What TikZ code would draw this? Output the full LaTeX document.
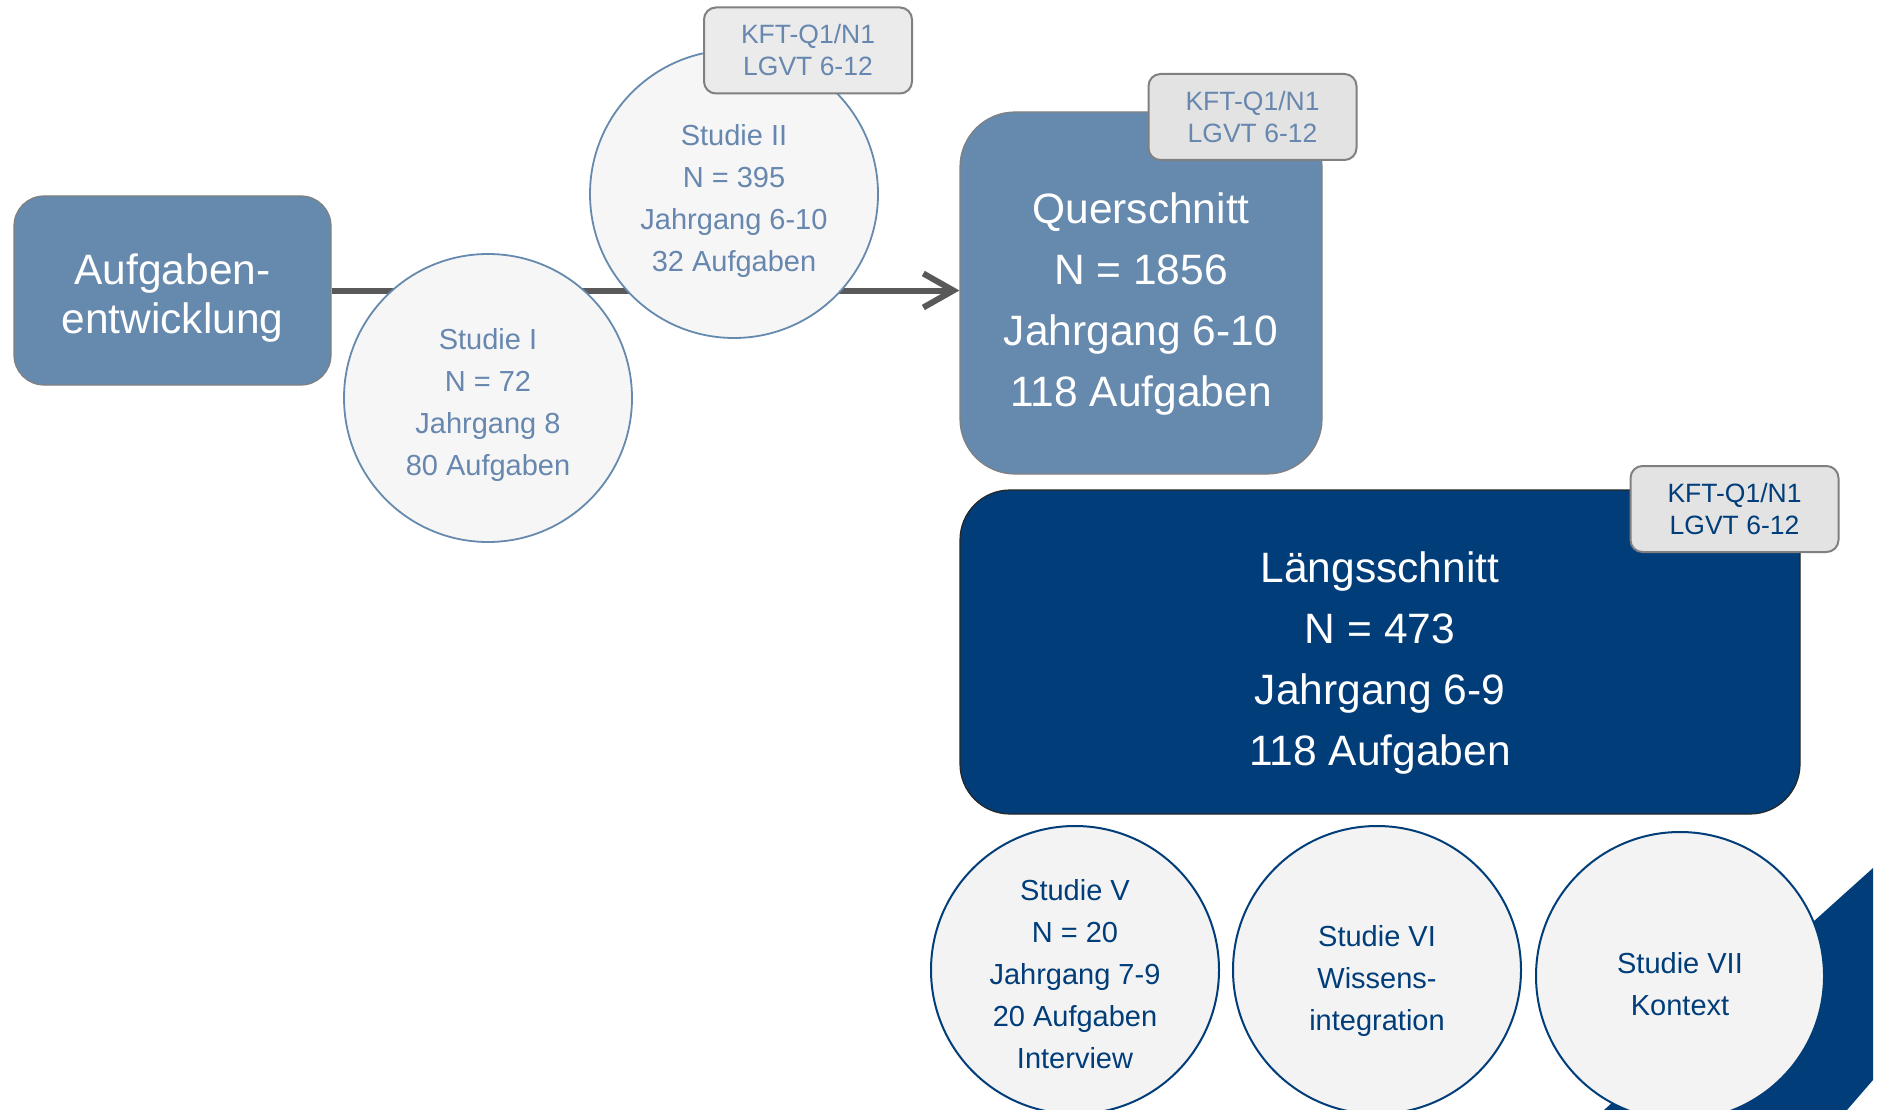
\documentclass[tikz,border=0pt]{standalone}
\usepackage{fontspec}
\setmainfont{Liberation Sans}
\usetikzlibrary{arrows.meta}
\definecolor{steel}{HTML}{6689AE}
\definecolor{steeltext}{HTML}{6787AF}
\definecolor{navy}{HTML}{003D79}
\definecolor{arrowgray}{HTML}{595959}
\definecolor{circfill}{HTML}{F6F6F6}
\definecolor{circfilltwo}{HTML}{F3F3F3}
\definecolor{badgefill}{HTML}{E3E3E3}
\definecolor{badgeline}{HTML}{808080}
\tikzset{
  bigbox/.style={draw=badgeline, line width=1.2pt, inner sep=0pt},
  bigtext/.style={align=center, text=white, inner sep=0pt, font=\fontsize{42.5}{61}\selectfont},
  badge/.style={draw=badgeline, fill=badgefill, line width=2pt, rounded corners=12pt,
    minimum width=208pt, minimum height=86pt, inner sep=0pt, align=center,
    font=\fontsize{26.5}{32}\selectfont},
  studyup/.style={circle, draw=steel, fill=circfill, line width=1.8pt, minimum size=288pt, inner sep=0pt},
  studydown/.style={circle, draw=navy, fill=circfilltwo, line width=2pt, minimum size=288pt, inner sep=0pt},
  uptext/.style={align=center, inner sep=0pt, text=steeltext, font=\fontsize{29}{42}\selectfont},
  downtext/.style={align=center, inner sep=0pt, text=navy, font=\fontsize{29}{42}\selectfont},
  arrowline/.style={draw=arrowgray, line width=6pt,
    -{Straight Barb[length=30pt,width=34pt,line width=6pt]}}
}
\begin{document}
\begin{tikzpicture}[x=1pt,y=-1pt]
\useasboundingbox (0,0) rectangle (1881,1110);
% boxes
\node[bigbox, fill=steel, rounded corners=30pt, minimum width=317pt, minimum height=189pt] (auf) at (172.5,290.5) {};
\node[bigtext, font=\fontsize{42.5}{49}\selectfont] (auft) at ([yshift=-8pt]auf.center) {Aufgaben-\\entwicklung};
\node[bigbox, fill=steel, rounded corners=55pt, minimum width=362pt, minimum height=362pt] (quer) at (1141,293) {};
\node[bigtext] (quert) at ([yshift=-11pt]quer.center) {Querschnitt\\N = 1856\\Jahrgang 6-10\\118 Aufgaben};
\node[bigbox, draw=black!85, fill=navy, rounded corners=50pt, minimum width=840pt, minimum height=324pt] (laeng) at (1380,652) {};
\node[bigtext] (laengt) at ([yshift=-11pt]laeng.center) {Längsschnitt\\N = 473\\Jahrgang 6-9\\118 Aufgaben};
% arrow
\draw[arrowline] (auf.east) -- (auf.east -| quer.west);
% upper studies
\node[studyup] (s1) at (488,398) {};
\node[uptext] (s1t) at ([yshift=-7pt]s1.center) {Studie I\\N = 72\\Jahrgang 8\\80 Aufgaben};
\node[studyup] (s2) at (734,194) {};
\node[uptext] (s2t) at ([yshift=-7pt]s2.center) {Studie II\\N = 395\\Jahrgang 6-10\\32 Aufgaben};
% corner shape
\fill[navy] (1873,868) -- (1873,1080) -- (1847,1110) -- (1604,1110) -- cycle;
% lower studies
\node[studydown] (s5) at (1075,970) {};
\node[downtext] (s5t) at ([yshift=-4pt]s5.center) {Studie V\\N = 20\\Jahrgang 7-9\\20 Aufgaben\\Interview};
\node[studydown] (s6) at (1377,970) {};
\node[downtext] (s6t) at ([yshift=-11pt]s6.center) {Studie VI\\Wissens-\\integration};
\node[studydown] (s7) at (1680,976) {};
\node[downtext] (s7t) at ([yshift=-8pt]s7.center) {Studie VII\\Kontext};
% badges
\node[badge, fill=badgefill!70!white, text=steeltext] (b1) at (808,50.5) {KFT-Q1/N1\\LGVT 6-12};
\node[badge, text=steeltext] (b2) at (1252.5,117) {KFT-Q1/N1\\LGVT 6-12};
\node[badge, text=navy] (b3) at (1734.5,509) {KFT-Q1/N1\\LGVT 6-12};
\end{tikzpicture}
\end{document}
